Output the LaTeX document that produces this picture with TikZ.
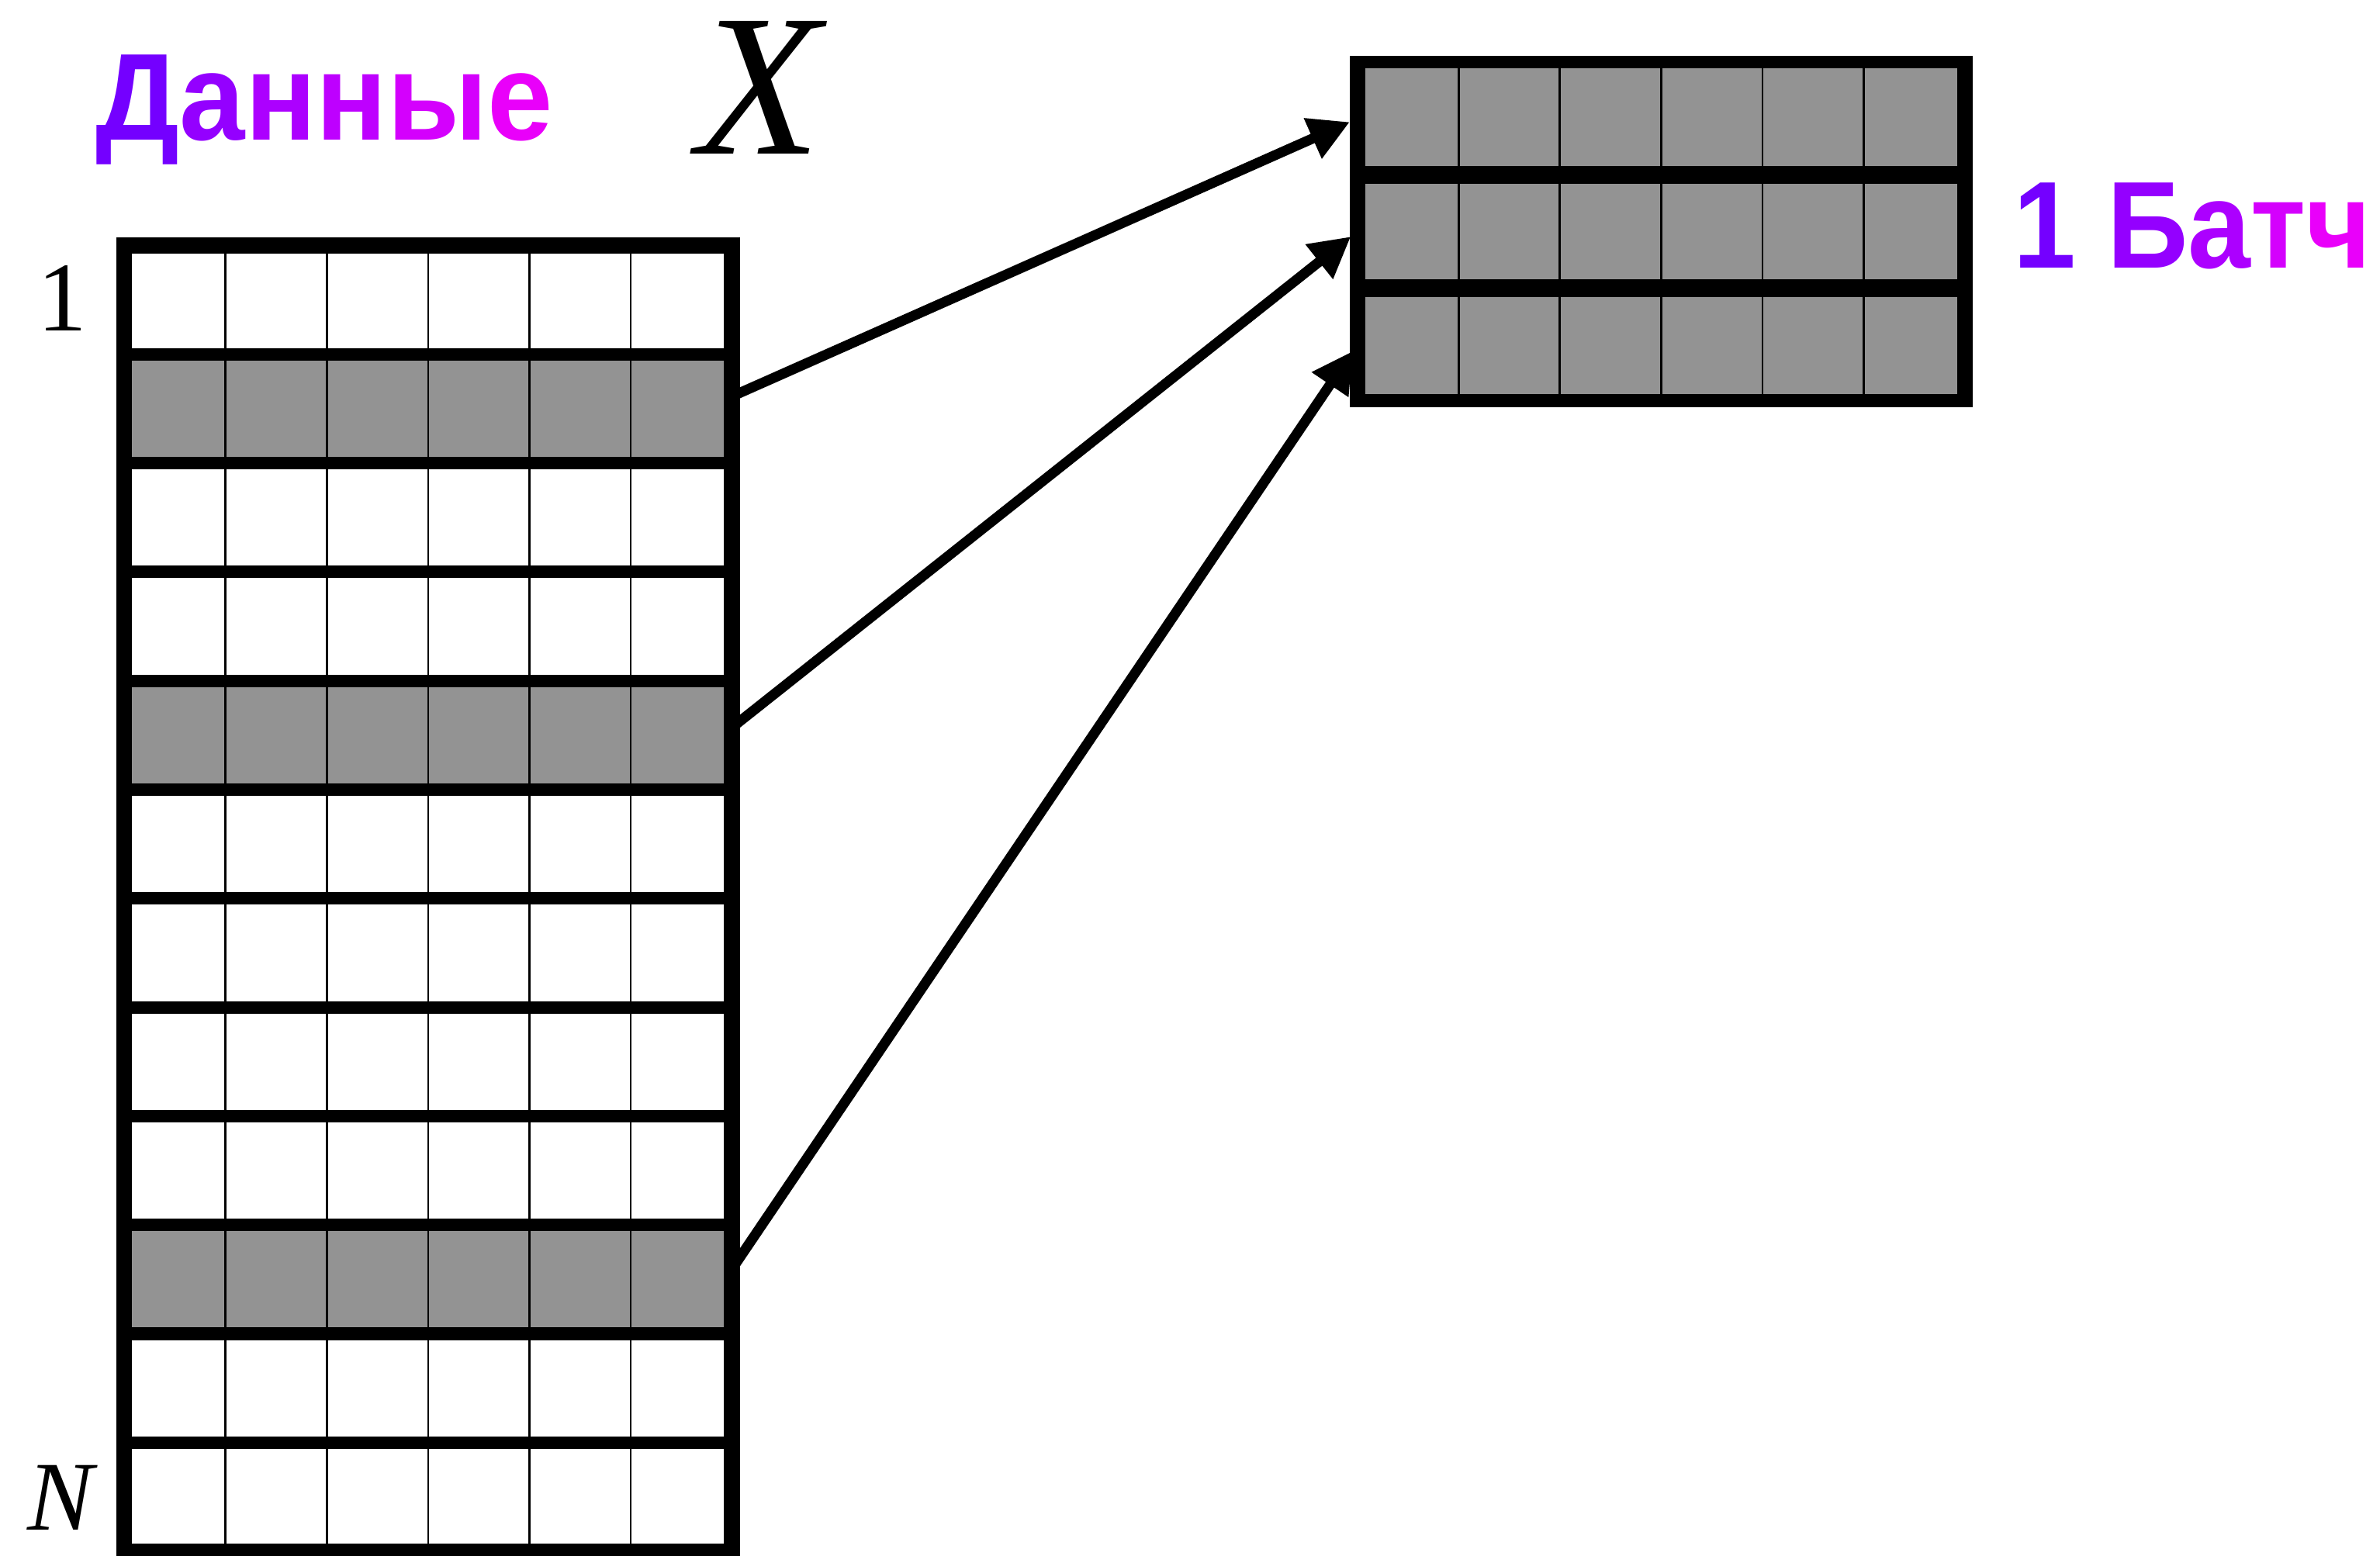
\documentclass[tikz,border=0pt]{standalone}
\usepackage{fontspec}
\setmainfont{Liberation Serif}
\newfontfamily\headfont{Liberation Sans}[FakeStretch=0.95]
\newfontfamily\batchfont{Liberation Sans}[FakeStretch=0.91]
\usetikzlibrary{arrows.meta}

\definecolor{cellgray}{RGB}{147,147,147}
\definecolor{gradA}{RGB}{116,0,255}
\definecolor{gradB}{RGB}{148,0,255}
\definecolor{gradC}{RGB}{172,0,255}
\definecolor{gradD}{RGB}{190,0,255}
\definecolor{gradE}{RGB}{212,0,253}
\definecolor{gradF}{RGB}{233,0,250}

\newcommand\titlestyle{\headfont\bfseries\fontsize{46.4}{50}\selectfont}
\newcommand\batchstyle{\batchfont\bfseries\fontsize{46.4}{50}\selectfont}
\newcommand\xstyle{\itshape\fontsize{76}{80}\selectfont}
\newcommand\idxstyle{\fontsize{37}{40}\selectfont}

\begin{document}
\begin{tikzpicture}[x=0.02cm, y=-0.02cm,
  lrow/.style={inner sep=0pt, outer sep=0pt, minimum width=8.01cm, minimum height=1.434cm},
  rrow/.style={inner sep=0pt, outer sep=0pt, minimum width=8.008cm, minimum height=1.4866cm, fill=cellgray},
  colline/.style={line width=0.8pt},
  lsep/.style={line width=4.67pt},
  lframe/.style={line width=6pt},
  rsep/.style={line width=6.7pt},
  rframe/.style={line width=4.7pt},
  rside/.style={line width=5.9pt},
  title/.style={inner sep=0pt},
  link/.style={line width=3.78pt, -{Triangle[length=15.2pt, width=15.6pt]}, shorten >=3.1pt}]
\useasboundingbox (0,0) rectangle (1568,1025);

% data matrix: twelve rows, six columns
\foreach \i in {1,...,12}
  \node[lrow] (L\i) at (282.05, {161.8+(\i-0.5)*71.7}) {};
\foreach \i in {2,5,10}
  \fill[cellgray] (L\i.south west) rectangle (L\i.north east);
\foreach \j in {1,...,5}
  \draw[colline] ({81.8+\j*66.75}, 161.8) -- ({81.8+\j*66.75}, 1022.2);
\foreach \k in {1,...,11}
  \draw[lsep] (81.8, {161.8+\k*71.7}) -- (482.3, {161.8+\k*71.7});
\draw[lframe] (L1.north west) rectangle (L12.south east);

% batch matrix: three rows
\foreach \i in {1,2,3}
  \node[rrow] (R\i) at (1094.4, {41+(\i-0.5)*74.33}) {};
\foreach \j in {1,...,5}
  \draw[colline] ({894.2+\j*66.73}, 41) -- ({894.2+\j*66.73}, 264);
\foreach \k in {1,2}
  \draw[rsep] (894.2, {41+\k*74.33}) -- (1294.6, {41+\k*74.33});
\draw[rframe] (R1.north west) rectangle (R3.south east);
\draw[rside] (894.2, 36.9) -- (894.2, 268.1);
\draw[rside] (1294.6, 36.9) -- (1294.6, 268.1);

% sampled rows go into the batch
\draw[link] ([yshift=0.164cm]L2.east) -- (R1.west);
\draw[link] ([yshift=0.102cm]L5.east) -- (R2.west);
\draw[link] ([yshift=0.136cm]L10.east) -- (R3.west);

% labels
\node[font=\xstyle, anchor=base west, inner sep=0pt] (xname) at (459,101.7) {X};
\node[font=\idxstyle, anchor=base, inner sep=0pt] (firstidx) at (41.2,218.1) {1};
\node[font=\idxstyle\itshape, anchor=base, inner sep=0pt] (lastidx) at (40,1008.2) {N};

% headings, coloured letter by letter from violet to magenta
\node[title, font=\titlestyle, anchor=base west] (dannye) at (63,92.5)
  {\textcolor{gradA}{Д}\textcolor{gradB}{а}\textcolor{gradC}{н}\textcolor{gradD}{н}\textcolor{gradE}{ы}\textcolor{gradF}{е}};
\node[title, font=\batchstyle, anchor=base west] (batch) at (1326,176.7)
  {\textcolor{gradA}{1} \textcolor{gradB}{Б}\textcolor{gradC}{а}\textcolor{gradE}{т}\textcolor{gradF}{ч}};
\end{tikzpicture}
\end{document}
